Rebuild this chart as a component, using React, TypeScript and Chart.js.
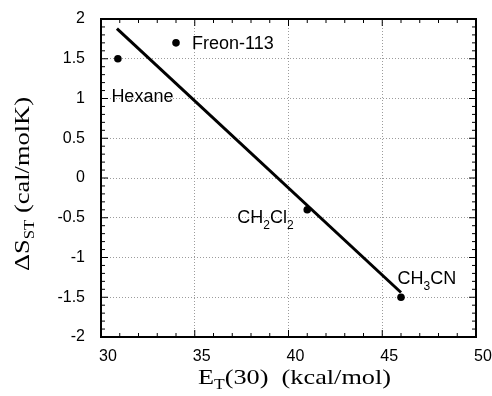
import { useEffect, useRef } from 'react';
import { Chart, registerables } from 'chart.js';

Chart.register(...registerables);

// ---- data ----
const solventNames = ['Hexane', 'Freon-113', 'CH2Cl2', 'CH3CN'];
const etValues = [30.9, 34.0, 41.0, 46.0];
const dsValues = [1.5, 1.7, -0.4, -1.5];
const fitEt = [30.85, 46.0];
const fitDs = [1.88, -1.44];
const xRange = [30, 50];
const yRange = [-2, 2];
const xStep = 5;
const yStep = 0.5;

// label rich-text pieces (sub = subscript)
type Part = { t: string; sub?: boolean };
const labelParts: Part[][] = [
  [{ t: 'Hexane' }],
  [{ t: 'Freon-113' }],
  [{ t: 'CH' }, { t: '2', sub: true }, { t: 'Cl' }, { t: '2', sub: true }],
  [{ t: 'CH' }, { t: '3', sub: true }, { t: 'CN' }],
];
const xTitleParts: Part[] = [{ t: 'E' }, { t: 'T', sub: true }, { t: '(30)  (kcal/mol)' }];
const yTitleParts: Part[] = [{ t: 'ΔS' }, { t: 'ST', sub: true }, { t: ' (cal/molK)' }];

// label placement relative to each point (pixels)
const labelDx = [-6.5, 16, -13.7, -3.5];
const labelDy = [43, 6, 13.3, -13.4];
const labelAlign = ['left', 'left', 'right', 'left'];

const SANS = '"Liberation Sans", Arial, Helvetica, sans-serif';
const SERIF = '"Liberation Serif", "Times New Roman", serif';

function richWidth(ctx: CanvasRenderingContext2D, parts: Part[], size: number, subSize: number, family: string) {
  let w = 0;
  for (const p of parts) {
    ctx.font = `${p.sub ? subSize : size}px ${family}`;
    w += ctx.measureText(p.t).width;
  }
  return w;
}

function drawRich(
  ctx: CanvasRenderingContext2D,
  parts: Part[],
  x: number,
  y: number,
  size: number,
  subSize: number,
  subDrop: number,
  family: string
) {
  let cx = x;
  for (const p of parts) {
    ctx.font = `${p.sub ? subSize : size}px ${family}`;
    ctx.fillText(p.t, cx, p.sub ? y + subDrop : y);
    cx += ctx.measureText(p.t).width;
  }
}

const overlay = {
  id: 'overlay',
  afterDraw(chart: any) {
    const { ctx, chartArea: a, scales } = chart;
    const xs = scales.x;
    const ys = scales.y;
    ctx.save();
    ctx.strokeStyle = '#000';
    ctx.fillStyle = '#000';

    // inward ticks on all four sides
    ctx.lineWidth = 1;
    ctx.beginPath();
    for (let k = xRange[0]; k <= xRange[1]; k += 1) {
      const px = xs.getPixelForValue(k);
      const len = k % xStep === 0 ? 7 : 4;
      ctx.moveTo(px, a.bottom);
      ctx.lineTo(px, a.bottom - len);
      ctx.moveTo(px, a.top);
      ctx.lineTo(px, a.top + len);
    }
    for (let k = yRange[0] * 10; k <= yRange[1] * 10; k += 1) {
      const py = ys.getPixelForValue(k / 10);
      const len = k % 5 === 0 ? 7 : 4;
      ctx.moveTo(a.left, py);
      ctx.lineTo(a.left + len, py);
      ctx.moveTo(a.right, py);
      ctx.lineTo(a.right - len, py);
    }
    ctx.stroke();

    // frame
    ctx.lineWidth = 2;
    ctx.strokeRect(a.left, a.top, a.right - a.left, a.bottom - a.top);

    // point labels
    ctx.textBaseline = 'alphabetic';
    ctx.textAlign = 'left';
    for (let i = 0; i < solventNames.length; i++) {
      const px = xs.getPixelForValue(etValues[i]);
      const py = ys.getPixelForValue(dsValues[i]);
      const parts = labelParts[i];
      const w = richWidth(ctx, parts, 18, 12, SANS);
      let lx = px + labelDx[i];
      if (labelAlign[i] === 'right') lx -= w;
      drawRich(ctx, parts, lx, py + labelDy[i], 18, 12, 6, SANS);
    }

    // x title (stretched horizontally like the original)
    {
      const nat = richWidth(ctx, xTitleParts, 21, 14, SERIF);
      const target = 193;
      const cx = (a.left + a.right) / 2 + 6;
      ctx.save();
      ctx.translate(cx - target / 2, a.bottom + 47);
      ctx.scale(target / nat, 1);
      drawRich(ctx, xTitleParts, 0, 0, 21, 14, 5, SERIF);
      ctx.restore();
    }
    // y title
    {
      const nat = richWidth(ctx, yTitleParts, 22, 14, SERIF);
      const target = 174;
      const cy = (a.top + a.bottom) / 2 + 6;
      ctx.save();
      ctx.translate(a.left - 72, cy + target / 2);
      ctx.rotate(-Math.PI / 2);
      ctx.scale(target / nat, 1);
      drawRich(ctx, yTitleParts, 0, 0, 22, 14, 5, SERIF);
      ctx.restore();
    }
    ctx.restore();
  },
};

const zeroPad = (s: any) => {
  s.paddingLeft = 0;
  s.paddingRight = 0;
  s.paddingTop = 0;
  s.paddingBottom = 0;
};

export default function App() {
  const ref = useRef<HTMLCanvasElement | null>(null);

  useEffect(() => {
    if (!ref.current) return;
    const gridColor = (c: any) => {
      const v = c.tick && c.tick.value;
      const scale = c.scale;
      if (v === scale.min || v === scale.max) return 'rgba(0,0,0,0)';
      return '#9c9c9c';
    };
    const chart = new Chart(ref.current, {
      type: 'scatter',
      data: {
        datasets: [
          {
            type: 'line',
            data: fitEt.map((x, i) => ({ x, y: fitDs[i] })),
            borderColor: '#000',
            borderWidth: 3,
            pointRadius: 0,
            fill: false,
            tension: 0,
          } as any,
          {
            data: etValues.map((x, i) => ({ x, y: dsValues[i] })),
            backgroundColor: '#000',
            borderColor: '#000',
            pointRadius: 3.8,
            pointBorderWidth: 0,
          },
        ],
      },
      plugins: [overlay],
      options: {
        animation: false,
        responsive: false,
        devicePixelRatio: 1,
        layout: { padding: { top: 19, right: 16, left: 0, bottom: 0 } },
        plugins: { legend: { display: false }, tooltip: { enabled: false } },
        scales: {
          x: {
            type: 'linear',
            min: xRange[0],
            max: xRange[1],
            afterFit: (s: any) => {
              s.height = 59;
              zeroPad(s);
            },
            ticks: {
              stepSize: xStep,
              color: '#000',
              padding: 10,
              labelOffset: 7,
              font: { family: SANS, size: 16 },
              callback: (v: any) => String(v),
            },
            grid: { color: gridColor, drawTicks: false, lineWidth: 1 },
            border: { display: false, dash: [1, 2] },
          },
          y: {
            type: 'linear',
            min: yRange[0],
            max: yRange[1],
            afterFit: (s: any) => {
              s.width = 101;
              zeroPad(s);
            },
            ticks: {
              stepSize: yStep,
              color: '#000',
              padding: 16,
              font: { family: SANS, size: 16 },
              callback: (v: any) => String(v),
            },
            grid: { color: gridColor, drawTicks: false, lineWidth: 1 },
            border: { display: false, dash: [1, 2] },
          },
        },
      } as any,
    });
    return () => chart.destroy();
  }, []);

  return (
    <div style={{ position: 'fixed', left: 0, top: 0, width: 492, height: 396, background: '#fff' }}>
      <canvas ref={ref} width={492} height={396} />
    </div>
  );
}
